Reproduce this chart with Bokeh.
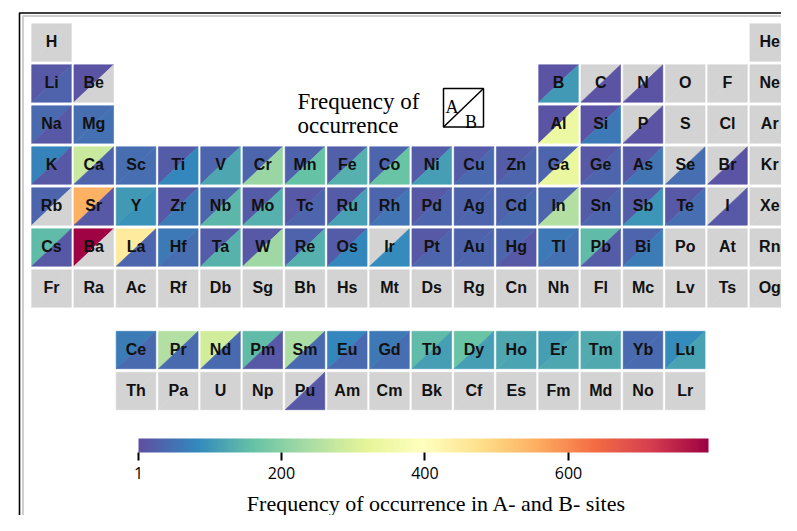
import numpy as np
from bokeh.plotting import figure
from bokeh.models import Range1d, LinearColorMapper, ColorBar, FixedTicker, ColumnDataSource
from bokeh.embed import file_html
from bokeh.resources import INLINE
from bokeh.core.properties import value
from bokeh.palettes import Spectral11

# ---------------- data ----------------
symbols = ["H", "He",
           "Li", "Be", "B", "C", "N", "O", "F", "Ne",
           "Na", "Mg", "Al", "Si", "P", "S", "Cl", "Ar",
           "K", "Ca", "Sc", "Ti", "V", "Cr", "Mn", "Fe", "Co", "Ni", "Cu", "Zn", "Ga", "Ge", "As", "Se", "Br", "Kr",
           "Rb", "Sr", "Y", "Zr", "Nb", "Mo", "Tc", "Ru", "Rh", "Pd", "Ag", "Cd", "In", "Sn", "Sb", "Te", "I", "Xe",
           "Cs", "Ba", "La", "Hf", "Ta", "W", "Re", "Os", "Ir", "Pt", "Au", "Hg", "Tl", "Pb", "Bi", "Po", "At", "Rn",
           "Fr", "Ra", "Ac", "Rf", "Db", "Sg", "Bh", "Hs", "Mt", "Ds", "Rg", "Cn", "Nh", "Fl", "Mc", "Lv", "Ts", "Og",
           "Ce", "Pr", "Nd", "Pm", "Sm", "Eu", "Gd", "Tb", "Dy", "Ho", "Er", "Tm", "Yb", "Lu",
           "Th", "Pa", "U", "Np", "Pu", "Am", "Cm", "Bk", "Cf", "Es", "Fm", "Md", "No", "Lr"]

group = [1, 18,
         1, 2, 13, 14, 15, 16, 17, 18,
         1, 2, 13, 14, 15, 16, 17, 18,
         1, 2, 3, 4, 5, 6, 7, 8, 9, 10, 11, 12, 13, 14, 15, 16, 17, 18,
         1, 2, 3, 4, 5, 6, 7, 8, 9, 10, 11, 12, 13, 14, 15, 16, 17, 18,
         1, 2, 3, 4, 5, 6, 7, 8, 9, 10, 11, 12, 13, 14, 15, 16, 17, 18,
         1, 2, 3, 4, 5, 6, 7, 8, 9, 10, 11, 12, 13, 14, 15, 16, 17, 18,
         3, 4, 5, 6, 7, 8, 9, 10, 11, 12, 13, 14, 15, 16,
         3, 4, 5, 6, 7, 8, 9, 10, 11, 12, 13, 14, 15, 16]

period = [1, 1,
          2, 2, 2, 2, 2, 2, 2, 2,
          3, 3, 3, 3, 3, 3, 3, 3,
          4, 4, 4, 4, 4, 4, 4, 4, 4, 4, 4, 4, 4, 4, 4, 4, 4, 4,
          5, 5, 5, 5, 5, 5, 5, 5, 5, 5, 5, 5, 5, 5, 5, 5, 5, 5,
          6, 6, 6, 6, 6, 6, 6, 6, 6, 6, 6, 6, 6, 6, 6, 6, 6, 6,
          7, 7, 7, 7, 7, 7, 7, 7, 7, 7, 7, 7, 7, 7, 7, 7, 7, 7,
          8.5, 8.5, 8.5, 8.5, 8.5, 8.5, 8.5, 8.5, 8.5, 8.5, 8.5, 8.5, 8.5, 8.5,
          9.5, 9.5, 9.5, 9.5, 9.5, 9.5, 9.5, 9.5, 9.5, 9.5, 9.5, 9.5, 9.5, 9.5]

N = None
# frequency of occurrence on the A site (upper-left triangle)
freq_A = [N, N,
          15, 10, 10, N, N, N, N, N,
          40, 45, 10, 10, N, N, N, N,
          75, 280, 45, 20, 35, 35, 30, 25, 35, 20, 20, 20, 35, 15, 15, N, N, N,
          35, 550, 105, 15, 35, 20, 15, 20, 35, 15, 30, 30, 35, 20, 20, 15, N, N,
          150, 790, 450, 60, 20, 15, 30, 20, N, 15, 30, 35, 60, 150, 35, N, N, N,
          N, N, N, N, N, N, N, N, N, N, N, N, N, N, N, N, N, N,
          65, 250, 290, 150, 240, 80, 62, 152, 165, 125, 112, 130, 40, 85,
          N, N, N, N, N, N, N, N, N, N, N, N, N, N]
# frequency of occurrence on the B site (lower-right triangle)
freq_B = [N, N,
          30, N, 105, 10, 10, N, N, N,
          15, 50, 340, 60, 10, N, N, N,
          15, 30, 45, 80, 125, 220, 160, 135, 165, 110, 40, 35, 330, 35, 55, 45, 10, N,
          N, 15, 95, 65, 145, 135, 35, 115, 55, 35, 35, 40, 250, 35, 100, 45, 15, N,
          15, N, 35, 45, 140, 225, 135, 80, 85, 35, 35, 15, 50, 20, 65, N, N, N,
          N, N, N, N, N, N, N, N, N, N, N, N, N, N, N, N, N, N,
          40, 40, 40, 15, 40, 40, 45, 110, 110, 120, 125, 128, 40, 118,
          N, N, N, N, 15, N, N, N, N, N, N, N, N, N]

cbar_ticks = [1, 200, 400, 600]
cbar_low, cbar_high = 1, 795
cbar_title = "Frequency of occurrence in A- and B- sites"
key_lines = ["Frequency of", "occurrence"]

# ---------------- layout (pixels from the picture's top-left) ----------------
W, H = 781, 515
X0, DX = 51.0, 42.25    # centre of group 1, column pitch
Y0, DY = 42.0, 41.0     # centre of period 1, row pitch
CW, CH = 39.6 / DX, 37.4 / DY


def gx(px):
    return 1 + (px - X0) / DX


def gy(py):
    return 1 + (py - Y0) / DY


# Spectral palette (purple -> red), interpolated to 256 steps
base = list(Spectral11)
if base[0].lower() == "#9e0142":
    base = base[::-1]
rgb = np.array([[int(c[i:i + 2], 16) for i in (1, 3, 5)] for c in base], float)
tb = np.linspace(0, 1, len(base))
pal = ['#%02x%02x%02x' % tuple(int(round(np.interp(t, tb, rgb[:, k]))) for k in range(3))
       for t in np.linspace(0, 1, 256)]

mapper = LinearColorMapper(palette=pal, low=cbar_low, high=cbar_high, nan_color="#d3d3d3")

p = figure(width=W, height=H,
           x_range=Range1d(gx(0), gx(W)),
           y_range=Range1d(gy(H), gy(0)),
           output_backend="svg", toolbar_location=None,
           x_axis_type=None, y_axis_type=None, min_border=0)
p.outline_line_color = None
p.background_fill_color = "white"
p.border_fill_color = "white"

# triangles: A upper-left, B lower-right
xs, ys, vals = [], [], []
for g, r, a, b in zip(group, period, freq_A, freq_B):
    l, rt = g - CW / 2, g + CW / 2
    t, bt = r - CH / 2, r + CH / 2
    xs.append([l, rt, l]); ys.append([t, t, bt])
    vals.append(np.nan if a is None else float(a))
    xs.append([rt, rt, l]); ys.append([t, bt, bt])
    vals.append(np.nan if b is None else float(b))

src = ColumnDataSource(dict(xs=xs, ys=ys, val=vals))
p.patches("xs", "ys", source=src,
          fill_color={"field": "val", "transform": mapper},
          line_color={"field": "val", "transform": mapper}, line_width=0.6)

p.text(x=group, y=period, text=symbols, text_font=value("Liberation Sans"),
       text_font_style="bold", text_font_size="16px", text_align="center",
       text_baseline="middle", text_color="#111111", y_offset=-1)

# outer frame
p.line([gx(19), gx(19), gx(1000)], [gy(700), gy(12.5), gy(12.5)], line_color="black", line_width=1.6)
p.line([gx(22.5), gx(22.5), gx(1000)], [gy(700), gy(15.5), gy(15.5)], line_color="#cfcfcf", line_width=2)

# key
p.text(x=[gx(297), gx(297)], y=[gy(100.7), gy(125)], text=key_lines,
       text_font=value("Liberation Serif"), text_font_size="23px",
       text_align="left", text_baseline="alphabetic", text_color="black")
p.quad(left=gx(443), right=gx(483), top=gy(88), bottom=gy(126.5),
       fill_color=None, line_color="black", line_width=1.5)
p.line([gx(443), gx(483)], [gy(126.5), gy(88)], line_color="black", line_width=1.5)
p.text(x=[gx(451.5), gx(470.5)], y=[gy(106.5), gy(121.5)], text=["A", "B"],
       text_font=value("Liberation Serif"), text_font_size="18px",
       text_align="center", text_baseline="alphabetic", text_color="black")

# colour bar
cb = ColorBar(color_mapper=mapper, orientation="horizontal", width=570, height=14,
              location=(138, 34), padding=0, margin=0,
              ticker=FixedTicker(ticks=cbar_ticks),
              major_tick_in=0, major_tick_out=8, major_tick_line_color="black",
              major_tick_line_width=2, minor_tick_line_color=None,
              bar_line_color=None, border_line_color=None, background_fill_color=None,
              major_label_text_font="Open Sans", major_label_text_font_size="16px",
              major_label_text_color="black", label_standoff=6)
p.add_layout(cb, "center")

p.text(x=[gx(436)], y=[gy(503)], text=[cbar_title],
       text_font=value("Liberation Serif"), text_font_size="22px",
       text_align="center", text_baseline="alphabetic", text_color="black")

open("out.html", "w").write(file_html(p, INLINE))
